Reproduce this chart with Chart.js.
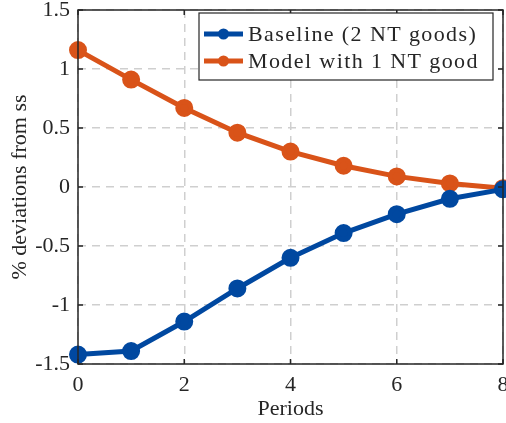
<!DOCTYPE html>
<html>
<head>
<meta charset="utf-8">
<script src="https://cdn.jsdelivr.net/npm/chart.js@4"></script>
<style>
  body { margin: 0; background: #fff; }
  #wrap { width: 506px; height: 423px; }
</style>
</head>
<body>
<div id="wrap"><canvas id="irf" width="506" height="423"></canvas></div>
<script>
var periods = [0, 1, 2, 3, 4, 5, 6, 7, 8];
var baseline = [-1.42, -1.39, -1.14, -0.86, -0.60, -0.39, -0.23, -0.10, -0.02];
var oneGood = [1.16, 0.91, 0.67, 0.46, 0.30, 0.18, 0.09, 0.03, -0.01];
var seriesNames = ["Baseline (2 NT goods)", "Model with 1 NT good"];
var seriesColors = ["rgb(0, 72, 160)", "rgb(217, 83, 25)"];
var xTitle = "Periods";
var yTitle = "% deviations from ss";

var serif = "'Liberation Serif', 'DejaVu Serif', serif";
var ink = "#262626";

function toPoints(ys) {
  return periods.map(function (x, i) { return { x: x, y: ys[i] }; });
}

// box, inward ticks, x labels, axis titles and legend, like the matlab figure
var boxPlugin = {
  id: "box",
  afterDraw: function (chart) {
    var ctx = chart.ctx;
    var a = chart.chartArea;
    var xs = chart.scales.x, ys = chart.scales.y;
    ctx.save();
    ctx.strokeStyle = ink;
    ctx.lineWidth = 1.5;
    ctx.strokeRect(a.left, a.top, a.right - a.left, a.bottom - a.top);
    ctx.beginPath();
    xs.ticks.forEach(function (t) {
      var px = xs.getPixelForValue(t.value);
      ctx.moveTo(px, a.bottom); ctx.lineTo(px, a.bottom - 5);
      ctx.moveTo(px, a.top); ctx.lineTo(px, a.top + 5);
    });
    ys.ticks.forEach(function (t) {
      var py = ys.getPixelForValue(t.value);
      ctx.moveTo(a.left, py); ctx.lineTo(a.left + 5, py);
      ctx.moveTo(a.right, py); ctx.lineTo(a.right - 5, py);
    });
    ctx.stroke();

    // x tick labels (drawn here so the last one doesn't shrink the plot)
    ctx.fillStyle = ink;
    ctx.font = "22px " + serif;
    ctx.textAlign = "center";
    ctx.textBaseline = "middle";
    xs.ticks.forEach(function (t) {
      ctx.fillText(String(t.value), xs.getPixelForValue(t.value), a.bottom + 21);
    });

    // axis titles
    ctx.fillText(xTitle, (a.left + a.right) / 2, 409);
    ctx.save();
    ctx.translate(20, (a.top + a.bottom) / 2);
    ctx.rotate(-Math.PI / 2);
    ctx.fillText(yTitle, 0, 0);
    ctx.restore();

    // legend
    var lx = 199, ly = 13, lw = 294, lh = 67;
    ctx.fillStyle = "#fff";
    ctx.fillRect(lx, ly, lw, lh);
    ctx.strokeStyle = ink;
    ctx.lineWidth = 1.2;
    ctx.strokeRect(lx, ly, lw, lh);
    ctx.textAlign = "left";
    ctx.letterSpacing = "1.4px";
    chart.data.datasets.forEach(function (ds, i) {
      var cy = ly + 21 + i * 27;
      ctx.strokeStyle = ds.borderColor;
      ctx.lineWidth = 5;
      ctx.beginPath();
      ctx.moveTo(lx + 5, cy); ctx.lineTo(lx + 44, cy);
      ctx.stroke();
      ctx.fillStyle = ds.borderColor;
      ctx.beginPath();
      ctx.arc(lx + 24.5, cy, 5.5, 0, Math.PI * 2);
      ctx.fill();
      ctx.fillStyle = ink;
      ctx.fillText(ds.label, lx + 49, cy + 1);
    });
    ctx.restore();
  }
};

new Chart(document.getElementById("irf").getContext("2d"), {
  type: "line",
  data: {
    datasets: [
      {
        label: seriesNames[0],
        data: toPoints(baseline),
        borderColor: seriesColors[0],
        backgroundColor: seriesColors[0],
        borderWidth: 5,
        pointRadius: 6.5,
        pointHoverRadius: 6.5,
      },
      {
        label: seriesNames[1],
        data: toPoints(oneGood),
        borderColor: seriesColors[1],
        backgroundColor: seriesColors[1],
        borderWidth: 5,
        pointRadius: 6.5,
        pointHoverRadius: 6.5,
      },
    ],
  },
  options: {
    responsive: false,
    animation: false,
    clip: false,
    layout: { autoPadding: false, padding: { top: 10, right: 3, left: 0, bottom: 0 } },
    plugins: {
      legend: { display: false },
      tooltip: { enabled: false },
    },
    scales: {
      x: {
        type: "linear",
        min: 0,
        max: 8,
        ticks: { stepSize: 2, display: false },
        grid: { color: "#cfcfcf", drawTicks: false, lineWidth: 1.5 },
        border: { display: false, dash: [8, 6] },
        afterFit: function (s) { s.height = 59; },
      },
      y: {
        min: -1.5,
        max: 1.5,
        ticks: {
          stepSize: 0.5,
          color: ink,
          font: { family: serif, size: 22 },
          padding: 8,
          callback: function (v) { return String(v); },
        },
        grid: { color: "#cfcfcf", drawTicks: false, lineWidth: 1.5 },
        border: { display: false, dash: [8, 6] },
        afterFit: function (s) {
          s.width = 78;
          s.paddingTop = 0;
          s.paddingBottom = 0;
        },
      },
    },
  },
  plugins: [boxPlugin],
});
</script>
</body>
</html>
